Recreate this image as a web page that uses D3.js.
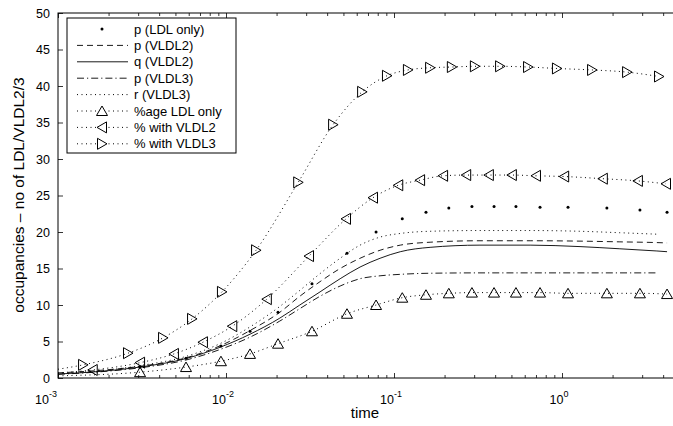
<!DOCTYPE html>
<html>
<head>
<meta charset="utf-8">
<script src="https://cdn.jsdelivr.net/npm/d3@7"></script>
<style>
  html, body { margin: 0; padding: 0; background: #fff; }
  svg { display: block; font-family: "Liberation Sans", Arial, sans-serif; }
</style>
</head>
<body>
<svg id="chart" width="673" height="426"></svg>
<script>
// time samples of the smooth curves
const lineT = [0.001, 0.00178, 0.00308, 0.00586, 0.0092, 0.0139, 0.0209, 0.0275, 0.0363, 0.0478,
  0.0628, 0.0826, 0.109, 0.164, 0.325, 0.646, 1.28, 2.21, 3.67, 4.22];
const pVLDL2 = [0.7, 1.05, 1.6, 2.8, 4.4, 6.5, 9.0, 11.2, 13.2, 15.0, 16.4, 17.5, 18.2, 18.6, 18.8, 18.8, 18.75, 18.65, 18.55, 18.5];
const qVLDL2 = [0.55, 0.9, 1.5, 2.7, 4.2, 6.0, 8.2, 10.0, 11.8, 13.6, 15.2, 16.4, 17.3, 17.9, 18.2, 18.2, 18.0, 17.7, 17.4, 17.3];
const pVLDL3 = [0.5, 0.85, 1.4, 2.5, 3.9, 5.6, 7.8, 9.5, 11.2, 12.6, 13.6, 14.0, 14.2, 14.35, 14.4, 14.4, 14.4, 14.4, 14.4];
const rVLDL3 = [0.6, 1.0, 1.7, 3.0, 4.7, 7.0, 9.8, 12.0, 14.3, 16.4, 18.2, 19.3, 19.8, 20.1, 20.2, 20.2, 20.1, 19.9, 19.7];

// marker samples
const tLDL = [0.00308, 0.00578, 0.00933, 0.0139, 0.0204, 0.0325, 0.0525, 0.0782, 0.112, 0.155,
  0.212, 0.291, 0.394, 0.532, 0.740, 1.086, 1.85, 2.91, 4.22];
const pLDLonly = [1.5, 2.7, 4.4, 6.4, 9.0, 12.9, 17.1, 20.0, 21.8, 22.7, 23.3, 23.5, 23.5, 23.5, 23.4, 23.4, 23.3, 23.0, 22.7];
const pctLDLonly = [0.8, 1.5, 2.3, 3.3, 4.7, 6.4, 8.8, 10.0, 11.0, 11.4, 11.6, 11.7, 11.7, 11.7, 11.7, 11.6, 11.6, 11.6, 11.5];

const tV2 = [0.00161, 0.00308, 0.0049, 0.00729, 0.0109, 0.0175, 0.0312, 0.0518, 0.075, 0.106,
  0.143, 0.196, 0.269, 0.367, 0.503, 0.700, 1.03, 1.75, 2.83, 4.16];
const pctVLDL2 = [1.1, 2.1, 3.3, 4.9, 7.1, 10.8, 16.7, 21.8, 24.7, 26.4, 27.1, 27.7, 27.8, 27.8, 27.8, 27.7, 27.6, 27.3, 27.0, 26.6];

const tV3 = [0.00141, 0.00261, 0.00422, 0.00628, 0.00946, 0.0151, 0.0269, 0.0434, 0.0646, 0.0908,
  0.121, 0.164, 0.221, 0.303, 0.428, 0.628, 0.933, 1.51, 2.44, 3.78];
const pctVLDL3 = [1.8, 3.4, 5.5, 8.1, 11.8, 17.5, 26.8, 34.7, 39.2, 41.4, 42.2, 42.5, 42.6, 42.7, 42.7, 42.6, 42.4, 42.2, 41.9, 41.3];

// value of the dotted marker lines at the left edge
const startT = 0.001;
const startLDL = 0.3, startV2 = 0.7, startV3 = 1.2;

const xMajor = [1e-3, 1e-2, 1e-1, 1e0, 1e1];
const xLabelTicks = [1e-3, 1e-2, 1e-1, 1e0];
const xLabels = ["-3", "-2", "-1", "0"];
const yTicks = d3.range(0, 51, 5);

const legendLabels = ["p (LDL only)", "p (VLDL2)", "q (VLDL2)", "p (VLDL3)", "r (VLDL3)",
  "%age LDL only", "% with VLDL2", "% with VLDL3"];

const svg = d3.select("#chart");
const pL = 58, pR = 730, pT = 13, pB = 378;

const x = d3.scaleLog().domain([1e-3, 10]).range([pL, pR]);
const y = d3.scaleLinear().domain([0, 50]).range([pB, pT]);

const xMinor = [];
xMajor.slice(0, -1).forEach(d => { for (let k = 2; k <= 9; k++) xMinor.push(d * k); });

svg.append("defs").append("clipPath").attr("id", "clip")
  .append("rect").attr("x", pL).attr("y", pT).attr("width", pR - pL).attr("height", pB - pT);

// ticks
const tickStyle = g => {
  g.select(".domain").remove();
  g.selectAll("line").attr("stroke", "#000").attr("stroke-width", 0.8);
};
svg.append("g").attr("transform", `translate(0,${pB})`)
  .call(d3.axisBottom(x).tickValues(xMajor).tickSize(-5).tickFormat("")).call(tickStyle);
svg.append("g").attr("transform", `translate(0,${pB})`)
  .call(d3.axisBottom(x).tickValues(xMinor).tickSize(-3).tickFormat("")).call(tickStyle);
svg.append("g").attr("transform", `translate(0,${pT})`)
  .call(d3.axisTop(x).tickValues(xMajor).tickSize(-5).tickFormat("")).call(tickStyle);
svg.append("g").attr("transform", `translate(0,${pT})`)
  .call(d3.axisTop(x).tickValues(xMinor).tickSize(-3).tickFormat("")).call(tickStyle);

const yAxis = svg.append("g").attr("transform", `translate(${pL},0)`)
  .call(d3.axisLeft(y).tickValues(yTicks).tickSize(-5).tickPadding(8))
  .call(tickStyle);
yAxis.selectAll("text").attr("font-size", 12.5).attr("fill", "#000")
  .attr("font-family", "Liberation Sans, Arial, sans-serif");

// x labels with superscript (the first one sits a little further left, as in matlab output)
const xl = svg.append("g").selectAll("text").data(xLabelTicks).join("text")
  .attr("x", (d, i) => x(d) - (i === 0 ? 12 : 3))
  .attr("y", 404)
  .attr("text-anchor", "middle")
  .attr("font-size", 12.5)
  .attr("fill", "#000");
xl.append("tspan").text("10");
xl.append("tspan").attr("dy", -7).attr("font-size", 9).text((d, i) => xLabels[i]);

// frame
svg.append("rect").attr("x", pL).attr("y", pT)
  .attr("width", pR - pL).attr("height", pB - pT)
  .attr("fill", "none").attr("stroke", "#000").attr("stroke-width", 1);

// axis titles
svg.append("text").attr("x", 365).attr("y", 418).attr("text-anchor", "middle")
  .attr("font-size", 15).attr("fill", "#000").text("time");
svg.append("text").attr("transform", "translate(24,195) rotate(-90)")
  .attr("text-anchor", "middle").attr("font-size", 15.5).attr("fill", "#000")
  .text("occupancies \u2013 no of LDL/VLDL2/3");

// line styles
const styles = {
  dashed: "6,4",
  solid: null,
  dashdot: "7,3,1.2,3",
  dotted: "1,3.5"
};

const plot = svg.append("g").attr("clip-path", "url(#clip)");
const line = d3.line().x(d => x(d[0])).y(d => y(d[1])).curve(d3.curveMonotoneX);
const zip = (t, v) => v.map((d, i) => [t[i], d]);

function drawLine(pts, dash) {
  plot.append("path").datum(pts)
    .attr("d", line)
    .attr("fill", "none")
    .attr("stroke", "#000")
    .attr("stroke-width", dash === styles.dotted ? 1 : 0.9)
    .attr("stroke-dasharray", dash);
}

drawLine(zip(lineT, rVLDL3), styles.dotted);
drawLine(zip(lineT, pVLDL3), styles.dashdot);
drawLine(zip(lineT, qVLDL2), styles.solid);
drawLine(zip(lineT, pVLDL2), styles.dashed);
drawLine([[startT, startLDL]].concat(zip(tLDL, pctLDLonly)), styles.dotted);
drawLine([[startT, startV2]].concat(zip(tV2, pctVLDL2)), styles.dotted);
drawLine([[startT, startV3]].concat(zip(tV3, pctVLDL3)), styles.dotted);

// markers
const tri = {
  up: "M0,-5L5.5,4.5L-5.5,4.5Z",
  left: "M-5,0L4.5,-5.5L4.5,5.5Z",
  right: "M5,0L-4.5,-5.5L-4.5,5.5Z"
};

function drawMarkers(pts, shape) {
  plot.append("g").selectAll("path").data(pts).join("path")
    .attr("transform", d => `translate(${x(d[0])},${y(d[1])})`)
    .attr("d", tri[shape])
    .attr("fill", "none")
    .attr("stroke", "#000")
    .attr("stroke-width", 1);
}
drawMarkers(zip(tLDL, pctLDLonly), "up");
drawMarkers(zip(tV2, pctVLDL2), "left");
drawMarkers(zip(tV3, pctVLDL3), "right");

plot.append("g").selectAll("circle").data(zip(tLDL, pLDLonly)).join("circle")
  .attr("cx", d => x(d[0])).attr("cy", d => y(d[1])).attr("r", 1.5).attr("fill", "#000");

// legend
const lg = svg.append("g");
lg.append("rect").attr("x", 67).attr("y", 18).attr("width", 169).attr("height", 135)
  .attr("fill", "#fff").attr("stroke", "#000").attr("stroke-width", 1);

const legendDash = [null, styles.dashed, "solid", styles.dashdot, styles.dotted, styles.dotted, styles.dotted, styles.dotted];
const legendMark = ["dot", null, null, null, null, "up", "left", "right"];

legendLabels.forEach((lab, i) => {
  const ly = 29 + i * 16.4;
  if (legendDash[i]) {
    lg.append("line").attr("x1", 77).attr("x2", 128).attr("y1", ly).attr("y2", ly)
      .attr("stroke", "#000").attr("stroke-width", legendDash[i] === styles.dotted ? 1 : 0.9)
      .attr("stroke-dasharray", legendDash[i] === "solid" ? null : legendDash[i]);
  }
  if (legendMark[i] === "dot") {
    lg.append("circle").attr("cx", 102).attr("cy", ly).attr("r", 1.5).attr("fill", "#000");
  } else if (legendMark[i]) {
    lg.append("path").attr("transform", `translate(102,${ly})`).attr("d", tri[legendMark[i]])
      .attr("fill", "#fff").attr("stroke", "#000").attr("stroke-width", 1);
  }
  lg.append("text").attr("x", 134).attr("y", ly + 4.5).attr("font-size", 13)
    .attr("fill", "#000").text(lab);
});
</script>
</body>
</html>
